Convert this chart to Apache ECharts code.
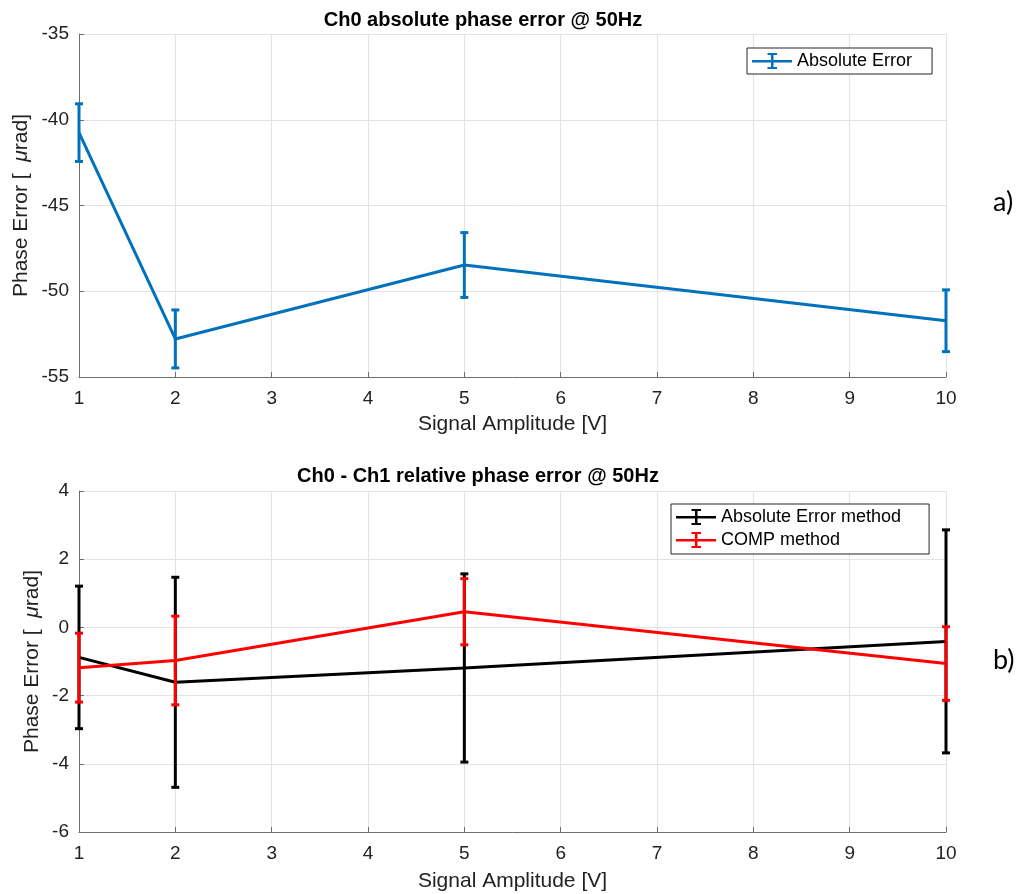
<!DOCTYPE html>
<html style="height: 100%">
<head>
<meta charset="utf-8">
</head>
<body style="height: 100%; margin: 0; background: #fff">
<div id="container" style="width: 1025px; height: 894px;"></div>
<script src="https://cdn.jsdelivr.net/npm/echarts@6/dist/echarts.min.js"></script>
<script>
// data
var amplitudes = [1, 2, 5, 10];
var absErr = [-40.75, -52.78, -48.47, -51.72];
var absErrDelta = [1.68, 1.69, 1.89, 1.80];
var relAbsMethod = [-0.88, -1.61, -1.19, -0.41];
var relAbsMethodDelta = [2.09, 3.08, 2.76, 3.27];
var relComp = [-1.18, -0.97, 0.46, -1.06];
var relCompDelta = [1.01, 1.30, 0.97, 1.08];
var xTicks = [1, 2, 3, 4, 5, 6, 7, 8, 9, 10];

var FONT = 'Liberation Sans, Arial, sans-serif';
var BLUE = '#0072bd', RED = '#ff0000', BLACK = '#000000';
var AXIS = '#6e6e6e', TXT = '#222222', GRIDC = '#e3e3e3';
var barIcon = 'path://M0,9 L40,9 L40,11.5 L0,11.5 Z M19,2 L21.5,2 L21.5,18 L19,18 Z M15.5,2 L25,2 L25,4 L15.5,4 Z M15.5,16 L25,16 L25,18 L15.5,18 Z';

var dom = document.getElementById('container');
var myChart = echarts.init(dom);

function lineData(ys) {
    return amplitudes.map(function (x, i) { return [x, ys[i]]; });
}
function barData(ys, ds) {
    return amplitudes.map(function (x, i) { return [x, ys[i] - ds[i], ys[i] + ds[i]]; });
}
function errorBars(params, api) {
    var x = api.value(0);
    var lo = api.coord([x, api.value(1)]);
    var hi = api.coord([x, api.value(2)]);
    var half = 4;
    var style = { stroke: api.visual('color'), lineWidth: 3 };
    return {
        type: 'group',
        children: [
            { type: 'line', shape: { x1: hi[0], y1: hi[1], x2: lo[0], y2: lo[1] }, style: style },
            { type: 'line', shape: { x1: hi[0] - half, y1: hi[1], x2: hi[0] + half, y2: hi[1] }, style: style },
            { type: 'line', shape: { x1: lo[0] - half, y1: lo[1], x2: lo[0] + half, y2: lo[1] }, style: style }
        ]
    };
}

function xAxis(idx, gap) {
    return {
        type: 'value', gridIndex: idx, min: 1, max: 10, interval: 1,
        name: 'Signal Amplitude [V]', nameLocation: 'middle', nameGap: gap, nameMoveOverlap: false,
        nameTextStyle: { fontFamily: FONT, fontSize: 21, color: TXT },
        axisLine: { onZero: false, lineStyle: { color: AXIS, width: 1 } },
        axisTick: { inside: true, length: 5, lineStyle: { color: AXIS } },
        axisLabel: { fontFamily: FONT, fontSize: 19, color: TXT, margin: 12,
            formatter: function (v) { return xTicks.indexOf(v) >= 0 ? String(v) : ''; } },
        splitLine: { show: true, lineStyle: { color: GRIDC, width: 1 } }
    };
}
function yAxis(idx, min, max, step, gap) {
    return {
        type: 'value', gridIndex: idx, min: min, max: max, interval: step,
        name: '{a|Phase Error [  }{b|μ}{a|rad]}', nameLocation: 'middle', nameGap: gap, nameMoveOverlap: false,
        nameTextStyle: {
            rich: {
                a: { fontFamily: FONT, fontSize: 21, color: TXT },
                b: { fontFamily: FONT, fontSize: 21, color: TXT, fontStyle: 'italic' }
            }
        },
        axisLine: { show: true, lineStyle: { color: AXIS, width: 1 } },
        axisTick: { show: true, inside: true, length: 5, lineStyle: { color: AXIS } },
        axisLabel: { fontFamily: FONT, fontSize: 19, color: TXT, margin: 10 },
        splitLine: { show: true, lineStyle: { color: GRIDC, width: 1 } }
    };
}

var legendText = { fontFamily: FONT, fontSize: 18, color: '#000' };
var titleText = { fontFamily: FONT, fontSize: 20, fontWeight: 'bold', color: '#000' };
var tagText = { fontFamily: 'Lato, Open Sans, sans-serif', fontSize: 27, fontWeight: 'normal', color: '#000' };

var option = {
    animation: false,
    backgroundColor: '#fff',
    title: [
        { text: 'Ch0 absolute phase error @ 50Hz', left: 483, top: 10, textAlign: 'center', padding: 0, textStyle: titleText },
        { text: 'Ch0 - Ch1 relative phase error @ 50Hz', left: 478, top: 466, textAlign: 'center', padding: 0, textStyle: titleText },
        { text: 'a)', left: 993, top: 189, padding: 0, textStyle: tagText },
        { text: 'b)', left: 993, top: 647, padding: 0, textStyle: tagText }
    ],
    legend: [
        {
            left: 747, top: 48, orient: 'vertical',
            data: [{ name: 'Absolute Error', icon: barIcon }],
            itemWidth: 40, itemHeight: 18, itemGap: 4,
            padding: [4, 20, 4, 5],
            borderColor: '#262626', borderWidth: 1, borderRadius: 0, backgroundColor: '#fff',
            textStyle: legendText, selectedMode: false
        },
        {
            left: 671, top: 504, orient: 'vertical',
            data: [{ name: 'Absolute Error method', icon: barIcon }, { name: 'COMP method', icon: barIcon }],
            itemWidth: 40, itemHeight: 18, itemGap: 5,
            padding: [4, 28, 5, 5],
            borderColor: '#262626', borderWidth: 1, borderRadius: 0, backgroundColor: '#fff',
            textStyle: legendText, selectedMode: false
        }
    ],
    grid: [
        { left: 79, top: 34, width: 867, height: 343 },
        { left: 79, top: 491, width: 867, height: 341 }
    ],
    xAxis: [xAxis(0, 37), xAxis(1, 39)],
    yAxis: [yAxis(0, -55, -35, 5, 47), yAxis(1, -6, 4, 2, 36)],
    series: [
        { name: 'Absolute Error', type: 'line', xAxisIndex: 0, yAxisIndex: 0, data: lineData(absErr),
          showSymbol: false, color: BLUE, lineStyle: { width: 3 } },
        { name: 'Absolute Error', type: 'custom', xAxisIndex: 0, yAxisIndex: 0, data: barData(absErr, absErrDelta),
          renderItem: errorBars, color: BLUE, encode: { x: 0, y: [1, 2] }, z: 3 },
        { name: 'Absolute Error method', type: 'line', xAxisIndex: 1, yAxisIndex: 1, data: lineData(relAbsMethod),
          showSymbol: false, color: BLACK, lineStyle: { width: 3 } },
        { name: 'Absolute Error method', type: 'custom', xAxisIndex: 1, yAxisIndex: 1, data: barData(relAbsMethod, relAbsMethodDelta),
          renderItem: errorBars, color: BLACK, encode: { x: 0, y: [1, 2] }, z: 3 },
        { name: 'COMP method', type: 'line', xAxisIndex: 1, yAxisIndex: 1, data: lineData(relComp),
          showSymbol: false, color: RED, lineStyle: { width: 3 }, z: 4 },
        { name: 'COMP method', type: 'custom', xAxisIndex: 1, yAxisIndex: 1, data: barData(relComp, relCompDelta),
          renderItem: errorBars, color: RED, encode: { x: 0, y: [1, 2] }, z: 5 }
    ]
};

myChart.setOption(option);
</script>
</body>
</html>
